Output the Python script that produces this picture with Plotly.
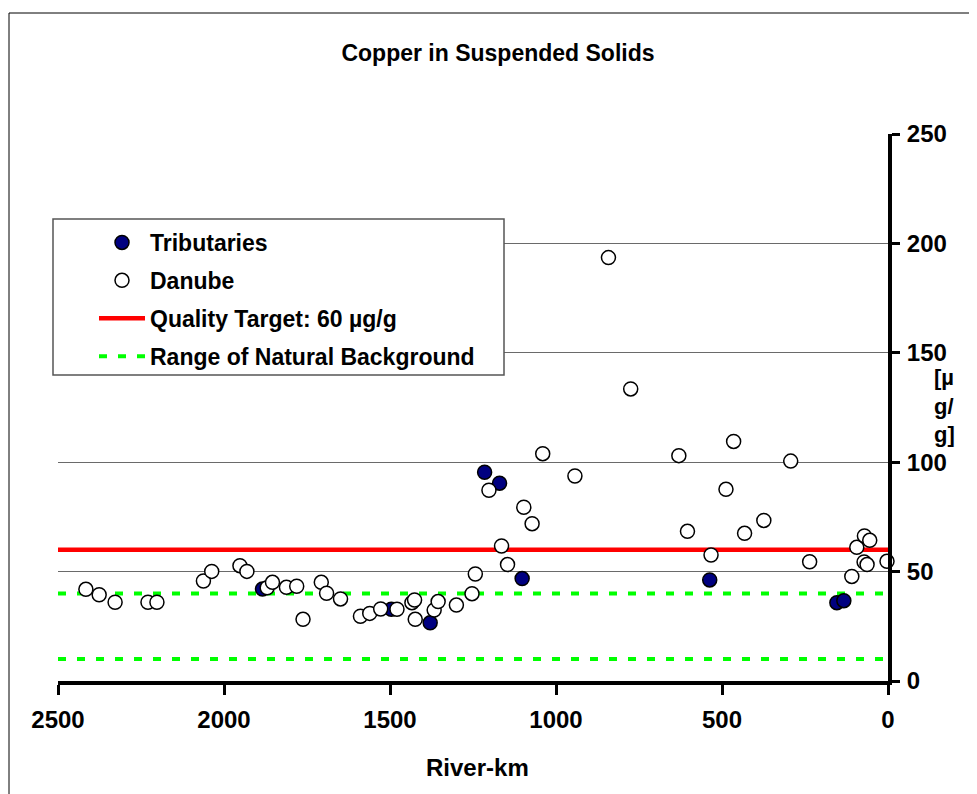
import plotly.graph_objects as go

# ---- data ----
tributaries_km = [1884, 1496, 1379, 1215, 1170, 1102, 537, 154, 133]
tributaries_cu = [42.0, 32.8, 26.6, 95.4, 90.4, 46.8, 46.2, 35.8, 36.7]

danube_km = [2416, 2376, 2328, 2229, 2202, 2062, 2037, 1952, 1931, 1870,
             1854, 1812, 1781, 1762, 1707, 1691, 1649, 1589, 1561, 1528,
             1479, 1434, 1426, 1424, 1367, 1355, 1300, 1253, 1243, 1202,
             1164, 1146, 1097, 1072, 1040, 943, 842, 775, 630, 604,
             533, 488, 465, 432, 374, 293, 236, 109, 94, 71,
             55, 72, 63, 3]
danube_cu = [41.9, 39.4, 36.0, 36.0, 36.0, 45.7, 50.1, 52.7, 50.1, 42.6,
             45.1, 42.8, 43.3, 28.2, 45.1, 40.1, 37.5, 29.6, 30.9, 32.9,
             32.8, 35.8, 37.0, 28.2, 32.4, 36.3, 34.7, 39.9, 48.9, 87.2,
             61.7, 53.2, 79.4, 71.9, 103.9, 93.7, 193.5, 133.5, 103.0, 68.4,
             57.6, 87.6, 109.5, 67.5, 73.4, 100.5, 54.5, 47.8, 61.1, 66.3,
             64.3, 54.4, 53.2, 54.7]

quality_target = 60
background_low = 10
background_high = 40
x_range = [2500, 0]
y_range = [0, 250]
x_ticks = [2500, 2000, 1500, 1000, 500, 0]
y_ticks = [0, 50, 100, 150, 200, 250]

title_text = "Copper in Suspended Solids"
x_title = "River-km"
y_title = "[µ<br>g/<br>g]"

# ---- layout geometry (screen pixels; page body has an 8px margin) ----
OFF = 8
W, H = 977 - OFF, 794 - OFF
L, R, T, B = 58 - OFF, 89, 134 - OFF, 113
PW, PH = W - L - R, H - T - B


def px_x(p):
    return (p - OFF - L) / PW


def px_y(p):
    return (H - B - (p - OFF)) / PH


FONT = "Arial, Liberation Sans, sans-serif"

fig = go.Figure()

# reference lines (drawn under the points)
fig.add_trace(go.Scatter(
    x=x_range, y=[quality_target, quality_target], mode="lines",
    name="Quality Target: 60 µg/g", legendrank=3, legendgroup="q",
    line=dict(color="#FF0000", width=4.5), hoverinfo="skip"))
fig.add_trace(go.Scatter(
    x=x_range, y=[background_high, background_high], mode="lines",
    name="Range of Natural Background", legendrank=4, legendgroup="r",
    line=dict(color="#00FF00", width=4, dash="8px,11px"), hoverinfo="skip"))
fig.add_trace(go.Scatter(
    x=x_range, y=[background_low, background_low], mode="lines",
    showlegend=False, legendgroup="r", legendrank=4,
    line=dict(color="#00FF00", width=4, dash="8px,11px"), hoverinfo="skip"))

fig.add_trace(go.Scatter(
    x=tributaries_km, y=tributaries_cu, mode="markers", name="Tributaries",
    legendrank=1, legendgroup="t", cliponaxis=False,
    marker=dict(symbol="circle", size=14, color="#000080",
                line=dict(color="black", width=1.5))))
fig.add_trace(go.Scatter(
    x=danube_km, y=danube_cu, mode="markers", name="Danube",
    legendrank=2, legendgroup="d", cliponaxis=False,
    marker=dict(symbol="circle", size=14, color="white",
                line=dict(color="black", width=1.5))))

fig.update_layout(
    width=W, height=H,
    margin=dict(l=L, r=R, t=T, b=B),
    paper_bgcolor="white", plot_bgcolor="white",
    font=dict(family=FONT, color="black", size=22, weight="bold"),
    title=dict(text=title_text, x=(498 - OFF) / W, xref="container",
               xanchor="center",
               y=1 - (53 - OFF) / H, yref="container", yanchor="middle",
               font=dict(family=FONT, size=23, color="black", weight="bold")),
    xaxis=dict(range=x_range, tickvals=x_ticks, showgrid=False, zeroline=False,
               showline=True, linecolor="black", linewidth=4,
               ticks="outside", ticklen=10, tickwidth=3, tickcolor="black",
               ticklabelstandoff=4,
               tickfont=dict(family=FONT, size=24, color="black", weight="bold")),
    yaxis=dict(range=y_range, tickvals=y_ticks, side="right",
               showgrid=True, gridcolor="#6a6a6a", gridwidth=1, zeroline=False,
               showline=True, linecolor="black", linewidth=4,
               ticks="outside", ticklen=8, tickwidth=3, tickcolor="black",
               ticklabelstandoff=2,
               tickfont=dict(family=FONT, size=24, color="black", weight="bold")),
    legend=dict(x=px_x(53), y=px_y(221), xanchor="left", yanchor="top",
                bgcolor="rgba(0,0,0,0)", borderwidth=0,
                font=dict(family=FONT, size=23, color="black", weight="bold"),
                traceorder="grouped", tracegroupgap=5, indentation=41,
                itemwidth=46),
    showlegend=True,
)

# legend frame (white box with grey border, covering the gridlines)
fig.add_shape(type="rect", xref="paper", yref="paper",
              x0=px_x(53), x1=px_x(504), y0=px_y(375), y1=px_y(219),
              line=dict(color="#555555", width=1.5), fillcolor="white",
              layer="above")

fig.add_annotation(text=x_title, xref="paper", yref="paper",
                   x=px_x(477), y=px_y(767), xanchor="center", yanchor="middle",
                   showarrow=False,
                   font=dict(family=FONT, size=24, color="black", weight="bold"))
fig.add_annotation(text=y_title, xref="paper", yref="paper",
                   x=px_x(932), y=px_y(363), xanchor="left", yanchor="top",
                   showarrow=False, align="left",
                   font=dict(family=FONT, size=22, color="black", weight="bold"))

# outer frame of the chart
fig.add_shape(type="rect", xref="paper", yref="paper",
              x0=px_x(9), x1=px_x(975), y0=px_y(800), y1=px_y(13),
              line=dict(color="black", width=1), fillcolor="rgba(0,0,0,0)",
              layer="below")

fig.write_html("out.html")
